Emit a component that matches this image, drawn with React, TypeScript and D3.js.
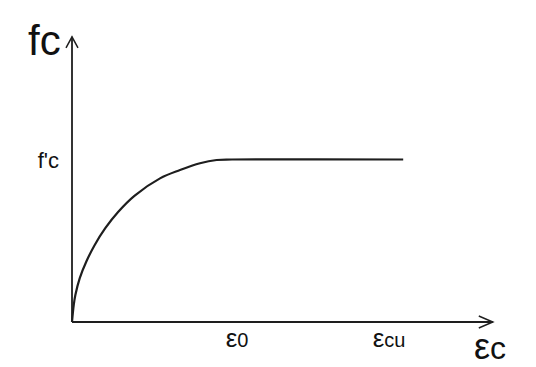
import React from "react";
import * as d3 from "d3";

// normalized strain (ε/ε0) and stress (fc/f'c)
const strain = [0, 0.011, 0.021, 0.048, 0.089, 0.142, 0.208, 0.288, 0.392, 0.55, 0.675, 0.8, 0.904, 1.0, 2.07];
const stress = [0, 0.105, 0.166, 0.269, 0.371, 0.474, 0.577, 0.677, 0.778, 0.884, 0.935, 0.977, 0.997, 1.0, 1.0];

const xTickValues = [1, 2];
const xTickLabels = [["ε", "0"], ["ε", "cu"]];
const yTickValues = [1];
const yTickLabels = ["f'c"];

const xMax = 2.63;
const yMax = 1.755;

const W = 536;
const H = 367;
const ox = 72;
const oy = 322;

export default function App() {
  const x = d3.scaleLinear().domain([0, xMax]).range([ox, ox + 160 * xMax]);
  const y = d3.scaleLinear().domain([0, yMax]).range([oy, oy - 162.5 * yMax]);
  const pts: [number, number][] = strain.map((s, i) => [s, stress[i]]);
  const line = d3
    .line<[number, number]>()
    .x((d) => x(d[0]))
    .y((d) => y(d[1]))
    .curve(d3.curveCatmullRom.alpha(0.5));

  const xEnd = x(xMax);
  const yTop = y(yMax);
  const stroke = "#1e1e1e";
  const font = "'Liberation Sans', Arial, sans-serif";

  return (
    <svg
      width={W}
      height={H}
      viewBox={`0 0 ${W} ${H}`}
      style={{ position: "absolute", left: 0, top: 0, background: "#fff" }}
    >
      <rect x={0} y={0} width={W} height={H} fill="#fff" />
      {/* axes */}
      <line x1={ox} y1={oy} x2={xEnd} y2={oy} stroke={stroke} strokeWidth={2} />
      <line x1={ox} y1={oy} x2={ox} y2={yTop} stroke={stroke} strokeWidth={1.8} />
      {/* arrowheads */}
      <path
        d={`M${xEnd - 14},${oy - 6} L${xEnd},${oy} L${xEnd - 14},${oy + 6}`}
        fill="none"
        stroke={stroke}
        strokeWidth={1.5}
      />
      <path
        d={`M${ox - 6},${yTop + 11} L${ox},${yTop} L${ox + 6},${yTop + 11}`}
        fill="none"
        stroke={stroke}
        strokeWidth={1.5}
      />
      {/* curve */}
      <path d={line(pts) || ""} fill="none" stroke={stroke} strokeWidth={2.2} />

      {/* axis titles */}
      <text x={28} y={55} fontFamily={font} fontSize={42} fill="#111">
        fc
      </text>
      <text x={474} y={359} fontFamily={font} fontSize={32} fill="#111">
        <tspan fontSize={36}>ε</tspan>
        <tspan>c</tspan>
      </text>

      {/* tick labels */}
      {yTickValues.map((v, i) => (
        <text
          key={"y" + i}
          x={ox - 13}
          y={y(v) + 8}
          textAnchor="end"
          fontFamily={font}
          fontSize={22}
          fill="#111"
        >
          {yTickLabels[i]}
        </text>
      ))}
      {xTickValues.map((v, i) => (
        <text
          key={"x" + i}
          x={x(v) + (i === 0 ? 5 : -3)}
          y={347}
          textAnchor="middle"
          fontFamily={font}
          fontSize={20}
          fill="#111"
        >
          <tspan fontSize={26}>{xTickLabels[i][0]}</tspan>
          <tspan>{xTickLabels[i][1]}</tspan>
        </text>
      ))}
    </svg>
  );
}
